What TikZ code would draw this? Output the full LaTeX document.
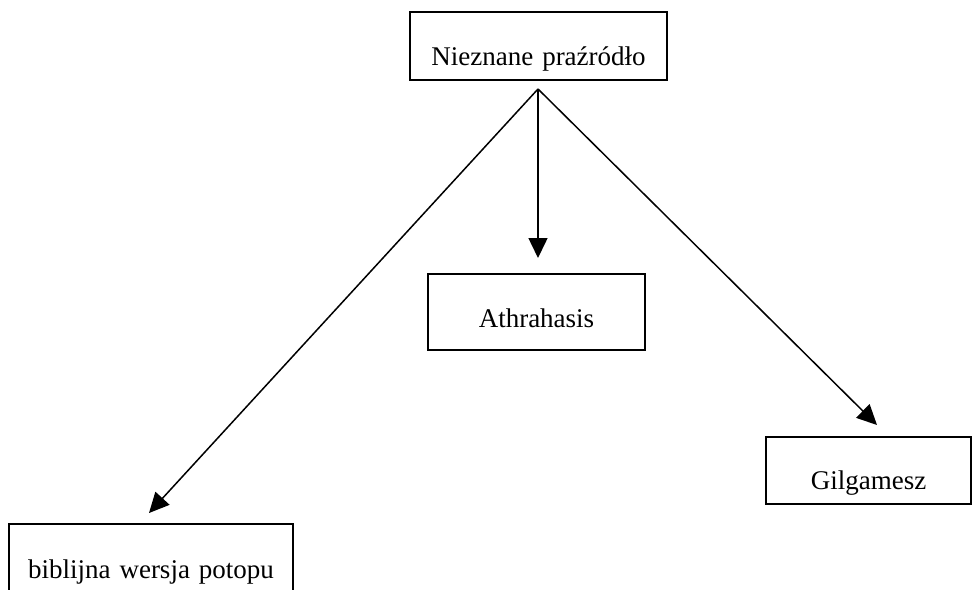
\documentclass[tikz,border=0pt]{standalone}
\usepackage{fontspec}
\setmainfont{Liberation Serif}
\usetikzlibrary{arrows.meta,calc}
\begin{document}
\begin{tikzpicture}[x=1pt,y=-1pt,
  box/.style={draw,line width=2pt,inner sep=0pt,align=center,
    font=\fontsize{27pt}{31pt}\selectfont},
  conn/.style={line width=1.5pt,-{Triangle[length=20pt,width=19pt]}}]
\useasboundingbox (0,0) rectangle (973,589);
\clip (0,0) rectangle (973,589);
\fill[white] (0,0) rectangle (973,589);
\node[box,text width=257pt,text height=53pt,text depth=15pt,anchor=north west] (src) at (409,11) {Nieznane praźródło};
\node[box,text width=217pt,text height=53pt,text depth=23pt,anchor=north west] (athr) at (427,273) {Athrahasis};
\node[box,text width=205pt,text height=52pt,text depth=15pt,anchor=north west] (gil) at (765,436) {Gilgamesz};
\node[box,text width=284pt,text height=54pt,text depth=40pt,anchor=north west] (bib) at (8,523) {biblijna wersja potopu};
\coordinate (fork) at ($(src.south)+(-0.5,8)$);
\draw[conn] (fork) -- ($(athr.north)+(1.5,-15)$);
\draw[conn] (fork) -- ($(gil.north)+(8.5,-11)$);
\draw[conn] (fork) -- ($(bib.north)+(-2,-10)$);
\end{tikzpicture}
\end{document}
